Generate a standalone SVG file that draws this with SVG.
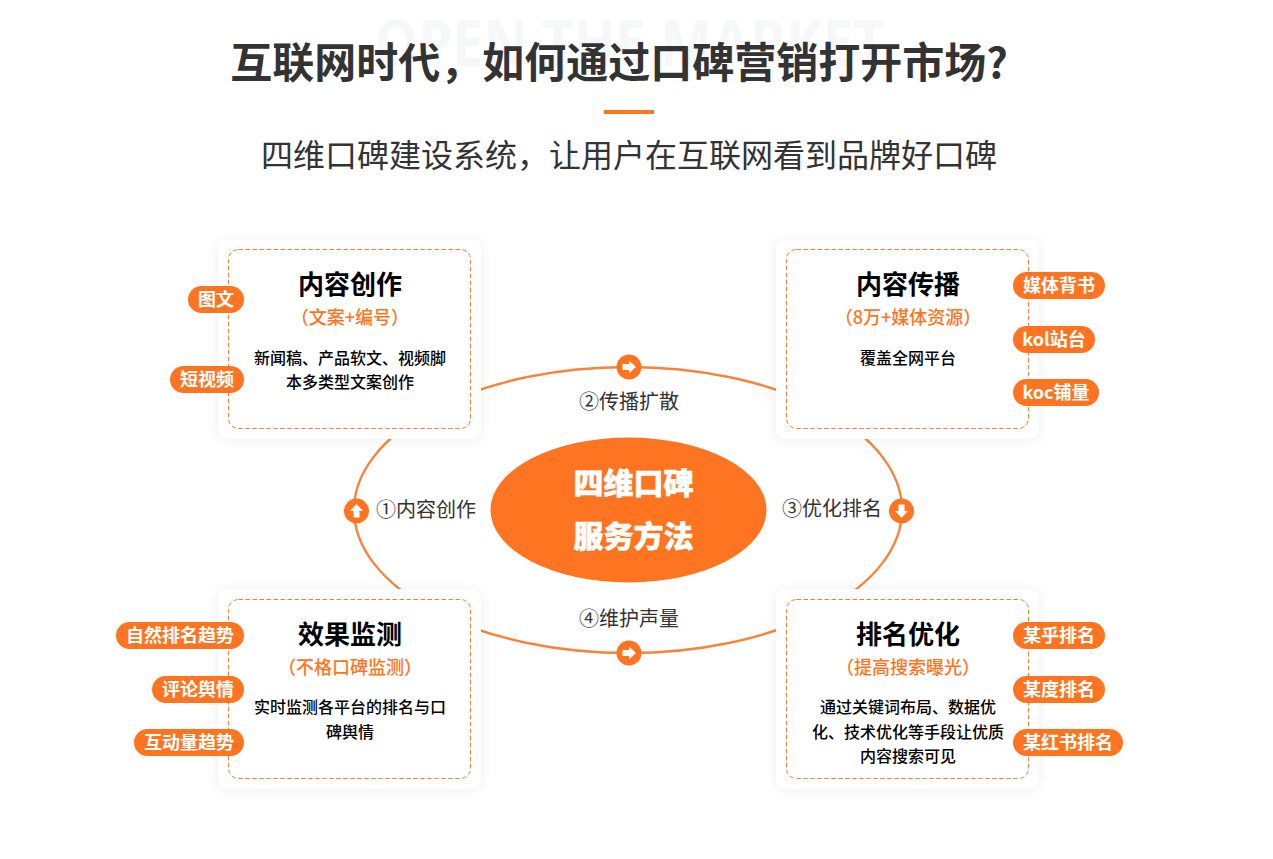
<svg xmlns="http://www.w3.org/2000/svg" width="1273" height="859" viewBox="0 0 1273 859">
<style>
text{font-family:"Noto Sans CJK SC","Noto Sans",sans-serif;text-anchor:middle}
.wm{font-size:64px;font-weight:700;fill:#f6f7f9;font-family:"Noto Sans","Noto Sans CJK SC",sans-serif}
.h1{font-size:42px;font-weight:700;fill:#333}
.h2{font-size:32px;fill:#333}
.card{fill:#fff;filter:url(#sh)}
.dash{fill:#fff;stroke:#f0803c;stroke-width:1;stroke-dasharray:4.500 2.500}
.ct{font-size:26px;font-weight:700;fill:#000}
.cs{font-size:18px;font-weight:500;fill:#ff7420}
.cb{font-size:16px;font-weight:500;fill:#000}
.pill{fill:#ff7420}
.pt{font-size:18px;font-weight:700;fill:#fff}
.lab{font-size:20px;fill:#333}
.orbit{fill:none;stroke:#f6843c;stroke-width:2.400}
.dot{fill:#ff7420}
.arr{fill:#fff}
.cen{font-size:30px;font-weight:900;fill:#fff;stroke:#fff;stroke-width:.5}
</style>
<defs>
<filter id="sh" x="-15%" y="-15%" width="130%" height="130%"><feDropShadow dx="0" dy="1" stdDeviation="6" flood-color="#000" flood-opacity="0.07"/></filter>
<path id="a" d="M-6.500 -3H0V-6.500L7 0L0 6.500V3H-6.500Z"/>
</defs>
<rect width="1273" height="859" fill="#fff"/>
<g id="header">
<text class="wm" x="630" y="66" textLength="510" lengthAdjust="spacingAndGlyphs">OPEN THE MARKET</text>
<text class="h1" x="619" y="78">互联网时代&#xFF0C;如何通过口碑营销打开市场?</text>
<rect x="604" y="110" width="50" height="4" fill="#ff7420"/>
<text class="h2" x="629" y="167">四维口碑建设系统&#xFF0C;让用户在互联网看到品牌好口碑</text>
</g>
<g id="connectors">
<ellipse class="orbit" cx="628" cy="510" rx="274" ry="143"/>
</g>
<g id="card1">
<rect class="card" x="218" y="239" width="263" height="200" rx="10"/>
<rect class="dash" x="228.500" y="249.500" width="242" height="179" rx="10"/>
<text class="ct" x="350" y="294">内容创作</text>
<text class="cs" x="350" y="324">&#xFF08;文案+编号&#xFF09;</text>
<text class="cb" x="350" y="364">新闻稿、产品软文、视频脚</text>
<text class="cb" x="350" y="388">本多类型文案创作</text>
</g>
<g id="card2">
<rect class="card" x="776" y="239" width="263" height="200" rx="10"/>
<rect class="dash" x="786.500" y="249.500" width="242" height="179" rx="10"/>
<text class="ct" x="908" y="294">内容传播</text>
<text class="cs" x="908" y="324">&#xFF08;8万+媒体资源&#xFF09;</text>
<text class="cb" x="908" y="364">覆盖全网平台</text>
</g>
<g id="card3">
<rect class="card" x="218" y="589" width="263" height="200" rx="10"/>
<rect class="dash" x="228.500" y="599.500" width="242" height="179" rx="10"/>
<text class="ct" x="350" y="644">效果监测</text>
<text class="cs" x="350" y="674">&#xFF08;不格口碑监测&#xFF09;</text>
<text class="cb" x="350" y="713">实时监测各平台的排名与口</text>
<text class="cb" x="350" y="738">碑舆情</text>
</g>
<g id="card4">
<rect class="card" x="776" y="589" width="263" height="200" rx="10"/>
<rect class="dash" x="786.500" y="599.500" width="242" height="179" rx="10"/>
<text class="ct" x="908" y="644">排名优化</text>
<text class="cs" x="908" y="674">&#xFF08;提高搜索曝光&#xFF09;</text>
<text class="cb" x="908" y="713">通过关键词布局、数据优</text>
<text class="cb" x="908" y="738">化、技术优化等手段让优质</text>
<text class="cb" x="908" y="762">内容搜索可见</text>
</g>
<g id="center">
<ellipse cx="628.500" cy="510" rx="138" ry="72.500" fill="#ff7420"/>
<text class="cen" x="633.500" y="494">四维口碑</text>
<text class="cen" x="633.500" y="547">服务方法</text>
</g>
<g id="labels">
<text class="lab" x="426" y="517">①内容创作</text>
<text class="lab" x="629" y="409">②传播扩散</text>
<text class="lab" x="832" y="516">③优化排名</text>
<text class="lab" x="629" y="626">④维护声量</text>
</g>
<g id="dots">
<g transform="translate(629,367)"><circle class="dot" r="12.500"/><use class="arr" href="#a"/></g>
<g transform="translate(629,653)"><circle class="dot" r="12.500"/><use class="arr" href="#a"/></g>
<g transform="translate(356.500,511) rotate(-90)"><circle class="dot" r="12.500"/><use class="arr" href="#a"/></g>
<g transform="translate(901.500,511) rotate(90)"><circle class="dot" r="12.500"/><use class="arr" href="#a"/></g>
</g>
<g id="tag-tuwen"><rect class="pill" x="188" y="286" width="56" height="27" rx="13.500"/><text class="pt" x="216" y="306">图文</text></g>
<g id="tag-duanshipin"><rect class="pill" x="170" y="366" width="74" height="27" rx="13.500"/><text class="pt" x="207" y="386">短视频</text></g>
<g id="tag-ziran"><rect class="pill" x="116" y="622" width="128" height="27" rx="13.500"/><text class="pt" x="180" y="642">自然排名趋势</text></g>
<g id="tag-pinglun"><rect class="pill" x="152" y="676" width="92" height="27" rx="13.500"/><text class="pt" x="198" y="696">评论舆情</text></g>
<g id="tag-hudong"><rect class="pill" x="134" y="729" width="110" height="27" rx="13.500"/><text class="pt" x="189" y="749">互动量趋势</text></g>
<g id="tag-meiti"><rect class="pill" x="1013" y="272" width="92" height="27" rx="13.500"/><text class="pt" x="1059" y="292">媒体背书</text></g>
<g id="tag-kol"><rect class="pill" x="1013" y="326" width="82" height="27" rx="13.500"/><text class="pt" x="1054" y="346">kol站台</text></g>
<g id="tag-koc"><rect class="pill" x="1013" y="379" width="86" height="27" rx="13.500"/><text class="pt" x="1056" y="399">koc铺量</text></g>
<g id="tag-mouhu"><rect class="pill" x="1013" y="622" width="92" height="27" rx="13.500"/><text class="pt" x="1059" y="642">某乎排名</text></g>
<g id="tag-moudu"><rect class="pill" x="1013" y="676" width="92" height="27" rx="13.500"/><text class="pt" x="1059" y="696">某度排名</text></g>
<g id="tag-mouhong"><rect class="pill" x="1013" y="729" width="110" height="27" rx="13.500"/><text class="pt" x="1068" y="749">某红书排名</text></g>
</svg>
